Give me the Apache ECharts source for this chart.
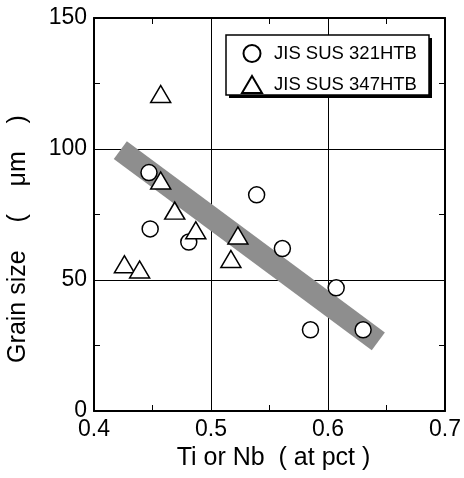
<!DOCTYPE html>
<html>
<head>
<meta charset="utf-8">
<script src="https://cdn.jsdelivr.net/npm/echarts@6/dist/echarts.min.js"></script>
<style>
  html, body { margin: 0; padding: 0; background: #fff; }
  #chart { width: 464px; height: 478px; }
</style>
</head>
<body>
<div id="chart"></div>
<script>
// Grain size vs Ti or Nb content
const seriesNames = ['JIS SUS 321HTB', 'JIS SUS 347HTB'];

// JIS SUS 321HTB (circles)
const sus321Ti = [0.447, 0.448, 0.481, 0.539, 0.561, 0.607, 0.585, 0.630];
const sus321Grain = [91, 69.5, 64.5, 82.5, 62, 47, 31, 31];

// JIS SUS 347HTB (triangles)
const sus347Nb = [0.457, 0.457, 0.469, 0.487, 0.426, 0.439, 0.523, 0.517];
const sus347Grain = [121, 88, 76.5, 69, 56, 54, 67, 58];

// trend band end points
const bandX = [0.4225, 0.643];
const bandY = [99.6, 26.6];

const xTicks = [0.4, 0.5, 0.6, 0.7];
const yTicks = [0, 50, 100, 150];

const xTitle = 'Ti or Nb  ( at pct )';
const yTitle = 'Grain size    (    μm    )';

const zip = (a, b) => a.map((v, i) => [v, b[i]]);
const FONT = "'Liberation Sans', Arial, sans-serif";

const frameAxis = (extra) => Object.assign({
  axisLine: { show: true, onZero: false, lineStyle: { color: '#000', width: 2 } },
  axisTick: { show: false, inside: true },
  minorTick: { show: true, splitNumber: 2, length: 6, lineStyle: { color: '#000', width: 1 } },
  splitLine: { show: false },
  axisLabel: { show: false }
}, extra);

// legend frame with a solid drop shadow
const legendBox = { x: 226, y: 35, width: 203, height: 60, shadow: 3 };

const chart = echarts.init(document.getElementById('chart'), null, { renderer: 'canvas' });
chart.setOption({
  animation: false,
  backgroundColor: '#fff',
  textStyle: { fontFamily: FONT },
  grid: { left: 94, right: 16, top: 18, bottom: 67, containLabel: false },
  xAxis: [
    frameAxis({
      type: 'value', position: 'bottom',
      min: xTicks[0], max: xTicks[xTicks.length - 1], interval: 0.1,
      splitLine: { show: true, lineStyle: { color: '#000', width: 1 } },
      axisLabel: { show: true, fontSize: 23, color: '#000', margin: 7, fontFamily: FONT,
        formatter: v => v.toFixed(1) },
      name: xTitle, nameLocation: 'middle', nameGap: 35,
      nameTextStyle: { fontSize: 25, color: '#000', fontFamily: FONT, padding: [0, 0, 0, 8] }
    }),
    frameAxis({
      type: 'value', position: 'top',
      min: xTicks[0], max: xTicks[xTicks.length - 1], interval: 0.1
    })
  ],
  yAxis: [
    frameAxis({
      type: 'value', position: 'left',
      min: yTicks[0], max: yTicks[yTicks.length - 1], interval: 50,
      splitLine: { show: true, lineStyle: { color: '#000', width: 1 } },
      axisLabel: { show: true, fontSize: 23, color: '#000', margin: 7, fontFamily: FONT }
    }),
    frameAxis({
      type: 'value', position: 'right',
      min: yTicks[0], max: yTicks[yTicks.length - 1], interval: 50
    })
  ],
  legend: {
    left: legendBox.x, top: legendBox.y, orient: 'vertical', z: 10,
    itemWidth: 20, itemHeight: 17, itemGap: 12,
    padding: [9, 13, 4, 15],
    backgroundColor: 'transparent', borderWidth: 0,
    textStyle: { fontSize: 18.5, color: '#000', fontFamily: FONT, padding: [0, 0, 0, 7] },
    data: seriesNames
  },
  graphic: [
    {
      type: 'rect', z: 8, silent: true,
      shape: { x: legendBox.x + legendBox.shadow, y: legendBox.y + legendBox.shadow,
        width: legendBox.width, height: legendBox.height },
      style: { fill: '#000' }
    },
    {
      type: 'rect', z: 9, silent: true,
      shape: { x: legendBox.x, y: legendBox.y, width: legendBox.width, height: legendBox.height },
      style: { fill: '#fff', stroke: '#000', lineWidth: 1.5 }
    },
    {
      type: 'text', x: 18.5, y: 239, rotation: Math.PI / 2,
      style: { text: yTitle, fontSize: 25, fontFamily: FONT, fill: '#000',
        align: 'center', verticalAlign: 'middle' }
    }
  ],
  series: [
    {
      name: 'band', type: 'line', data: zip(bandX, bandY),
      symbol: 'none', silent: true, z: 1,
      lineStyle: { color: '#8e8e8e', width: 22, cap: 'butt' }
    },
    {
      name: seriesNames[0], type: 'scatter', data: zip(sus321Ti, sus321Grain),
      symbol: 'circle', symbolSize: 16, z: 3,
      itemStyle: { color: '#fff', borderColor: '#000', borderWidth: 1.5, opacity: 1 }
    },
    {
      name: seriesNames[1], type: 'scatter', data: zip(sus347Nb, sus347Grain),
      symbol: 'triangle', symbolSize: [20, 17], z: 3,
      itemStyle: { color: '#fff', borderColor: '#000', borderWidth: 1.5, opacity: 1 }
    }
  ]
});
</script>
</body>
</html>
